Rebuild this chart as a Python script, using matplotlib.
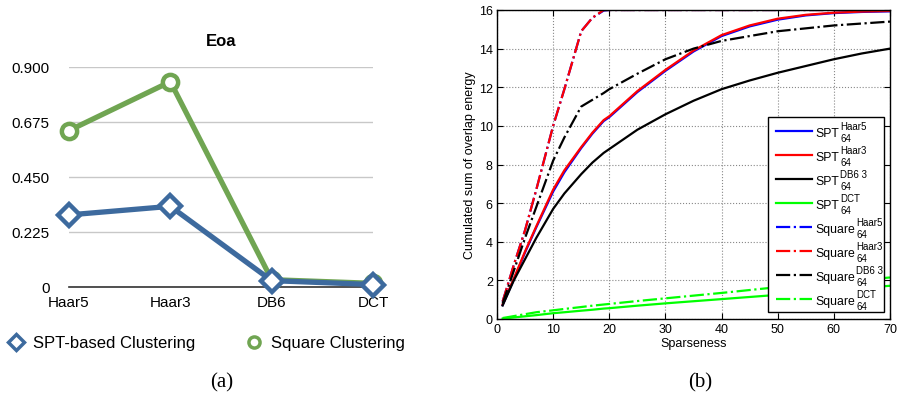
import matplotlib
matplotlib.use("Agg")
import matplotlib.pyplot as plt
from matplotlib.lines import Line2D
from matplotlib.patches import Rectangle

plt.rcParams['font.family'] = ['Liberation Sans', 'DejaVu Sans']

# ---- panel (a) data ----
categories = ["Haar5", "Haar3", "DB6", "DCT"]
spt_clustering = [0.295, 0.330, 0.026, 0.010]
square_clustering = [0.640, 0.840, 0.030, 0.015]
a_yticks = [0, 0.225, 0.450, 0.675, 0.900]
a_yticklabels = ["0", "0.225", "0.450", "0.675", "0.900"]

# ---- panel (b) data ----
sparseness = [1, 3, 5, 7, 10, 12, 15, 17, 19, 20, 25, 30, 35, 40, 45, 50, 55, 60, 65, 70]
spt_haar5 = [0.72, 2.05, 3.45, 4.75, 6.6, 7.6, 8.85, 9.6, 10.25, 10.45, 11.75, 12.85, 13.85, 14.65, 15.15, 15.5, 15.72, 15.84, 15.9, 15.93]
spt_haar3 = [0.75, 2.1, 3.5, 4.8, 6.7, 7.7, 8.9, 9.65, 10.3, 10.5, 11.8, 12.9, 13.9, 14.7, 15.2, 15.55, 15.75, 15.86, 15.92, 15.95]
spt_db6 = [0.7, 2.0, 3.1, 4.2, 5.7, 6.5, 7.5, 8.1, 8.6, 8.8, 9.8, 10.6, 11.3, 11.9, 12.35, 12.75, 13.1, 13.45, 13.75, 14.0]
spt_dct = [0.02, 0.08, 0.14, 0.2, 0.3, 0.35, 0.43, 0.48, 0.54, 0.56, 0.69, 0.81, 0.92, 1.03, 1.14, 1.25, 1.37, 1.5, 1.61, 1.72]
sq_haar5 = [0.9, 2.8, 4.6, 6.7, 10.0, 11.9, 14.9, 15.6, 15.97, 16.0, 16.0, 16.0, 16.0, 16.0, 16.0, 16.0, 16.0, 16.0, 16.0, 16.0]
sq_haar3 = [0.9, 2.8, 4.6, 6.7, 10.0, 11.9, 14.9, 15.6, 16.0, 16.0, 16.0, 16.0, 16.0, 16.0, 16.0, 16.0, 16.0, 16.0, 16.0, 16.0]
sq_db6 = [0.8, 2.5, 4.2, 5.8, 8.2, 9.4, 11.0, 11.35, 11.7, 11.9, 12.7, 13.45, 14.0, 14.4, 14.65, 14.9, 15.05, 15.2, 15.3, 15.4]
sq_dct = [0.05, 0.15, 0.25, 0.35, 0.45, 0.52, 0.62, 0.69, 0.75, 0.78, 0.93, 1.07, 1.21, 1.35, 1.5, 1.65, 1.78, 1.9, 2.02, 2.15]

series_b = [
    (spt_haar5, '#0000FF', '-', 'SPT', 'Haar5'),
    (spt_haar3, '#FF0000', '-', 'SPT', 'Haar3'),
    (spt_db6, '#000000', '-', 'SPT', 'DB6 3'),
    (spt_dct, '#00FF00', '-', 'SPT', 'DCT'),
    (sq_haar5, '#0000FF', '-.', 'Square', 'Haar5'),
    (sq_haar3, '#FF0000', '-.', 'Square', 'Haar3'),
    (sq_db6, '#000000', '-.', 'Square', 'DB6 3'),
    (sq_dct, '#00FF00', '-.', 'Square', 'DCT'),
]
sub_label = '64'

fig = plt.figure(figsize=(9.05, 4.02), dpi=100)
W, H = 905, 402

def px_axes(x0, y0, x1, y1):
    return fig.add_axes([x0 / W, 1 - y1 / H, (x1 - x0) / W, (y1 - y0) / H])

# ================= panel (a) =================
blue = '#3D6A9E'
green = '#70A552'
ax1 = px_axes(69, 68, 373, 288)
xs = list(range(len(categories)))
ax1.plot(xs, square_clustering, color=green, lw=3.8, marker='o', ms=11,
         mfc='white', mec=green, mew=3.2, clip_on=False, zorder=3)
ax1.plot(xs, spt_clustering, color=blue, lw=3.8, marker='D', ms=11,
         mfc='white', mec=blue, mew=3.2, clip_on=False, zorder=4)
ax1.set_xlim(0, 3)
ax1.set_ylim(0, 0.9)
ax1.set_yticks(a_yticks)
ax1.set_yticklabels(a_yticklabels, fontsize=11)
ax1.set_xticks(xs)
ax1.set_xticklabels(categories, fontsize=11)
ax1.tick_params(length=0, pad=14, axis='y')
ax1.tick_params(length=0, pad=6, axis='x')
ax1.grid(axis='y', color='#C8C8C8', lw=1.0)
ax1.set_axisbelow(True)
for s in ['left', 'right', 'top']:
    ax1.spines[s].set_visible(False)
ax1.spines['bottom'].set_color('#333333')
ax1.spines['bottom'].set_linewidth(1.2)
ax1.set_title('Eoa', fontsize=12, fontweight='bold', pad=16)

handles = [Line2D([], [], ls='none', marker='D', ms=8, mfc='white', mec=blue, mew=2.5),
           Line2D([], [], ls='none', marker='o', ms=8, mfc='white', mec=green, mew=2.5)]
fig.legend(handles, ['SPT-based Clustering', 'Square Clustering'],
           loc='center left', bbox_to_anchor=(-1 / W, 1 - 344 / H), ncol=2,
           frameon=False, fontsize=12, handletextpad=0.45, columnspacing=2.9,
           handlelength=1.2, borderaxespad=0)

fig.text(222 / W, 1 - 383 / H, '(a)', ha='center', va='center',
         fontsize=15, family='Liberation Serif')
fig.text(700 / W, 1 - 383 / H, '(b)', ha='center', va='center',
         fontsize=15, family='Liberation Serif')

# ================= panel (b) =================
ax2 = px_axes(497, 11, 890, 320)
lw = 1.6
for vals, col, ls, base, sup in series_b:
    ax2.plot(sparseness, vals, color=col, lw=lw, ls=ls)
ax2.set_xlim(0, 70)
ax2.set_ylim(0, 16)
ax2.set_xticks(range(0, 71, 10))
ax2.set_yticks(range(0, 17, 2))
ax2.tick_params(direction='in', top=True, right=True, labelsize=9, length=4, pad=3)
ax2.grid(True, ls=':', color='#888888', lw=0.8)
for s in ax2.spines.values():
    s.set_linewidth(1.0)
ax2.set_xlabel('Sparseness', fontsize=9, labelpad=1)
ax2.set_ylabel('Cumulated sum of overlap energy', fontsize=9, labelpad=2)

# custom legend (MATLAB style, stacked super/subscripts)
def fx(px):
    return px / W
def fy(py):
    return 1 - py / H

frame = Rectangle((fx(768), fy(313)), fx(884) - fx(768), fy(118) - fy(313),
                  transform=fig.transFigure, facecolor='white', edgecolor='black',
                  lw=1.0, zorder=10, clip_on=False)
ax2.add_artist(frame)
renderer = fig.canvas.get_renderer()
for i, (vals, col, ls, base, sup) in enumerate(series_b):
    yc = 132.3 + 24.0 * i
    ax2.add_line(Line2D([fx(776), fx(812)], [fy(yc), fy(yc)], color=col, lw=lw, ls=ls,
                        transform=fig.transFigure, zorder=11, clip_on=False))
    t = ax2.text(fx(815.5), fy(yc + 4.4), base, fontsize=8.8, ha='left', va='baseline',
                 transform=fig.transFigure, zorder=11, clip_on=False)
    bb = t.get_window_extent(renderer=renderer)
    xr = bb.x1 + 1.0
    ax2.text(xr / W, fy(yc - 2.3), sup, fontsize=7.0, ha='left', va='baseline',
             transform=fig.transFigure, zorder=11, clip_on=False)
    ax2.text(xr / W, fy(yc + 10.0), sub_label, fontsize=7.0, ha='left', va='baseline',
             transform=fig.transFigure, zorder=11, clip_on=False)

fig.savefig('out.png', dpi=100)
